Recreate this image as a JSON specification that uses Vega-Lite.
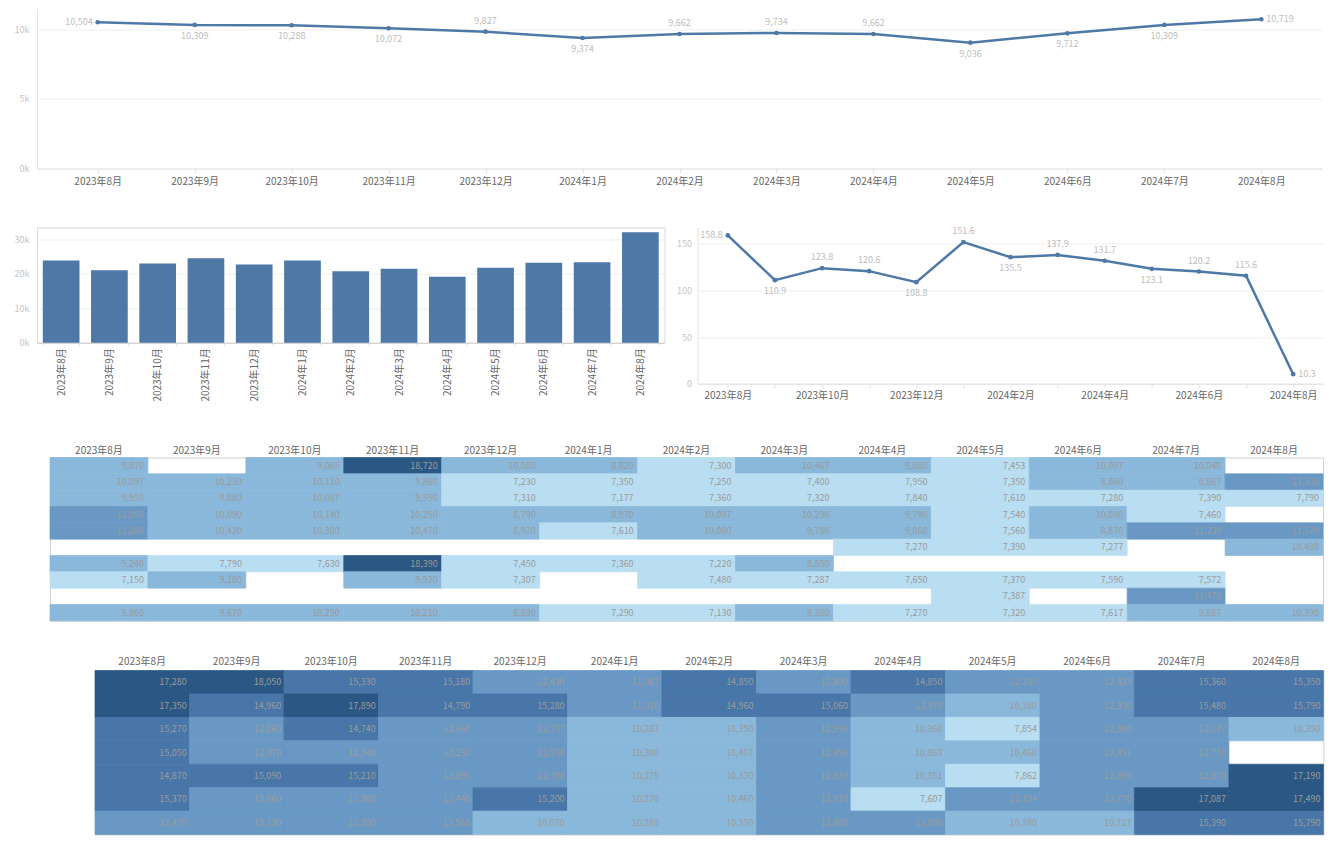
{
  "$schema": "https://vega.github.io/schema/vega-lite/v6.json",
  "padding": {"left": 5, "top": 9.5, "right": 5, "bottom": 5},
  "config": {
    "font": "Noto Sans CJK SC",
    "view": {"stroke": null},
    "axis": {"labelFont": "Noto Sans CJK SC", "labelColor": "#666666", "labelFontSize": 10, "domainColor": "#e2e2e2", "tickColor": "#e2e2e2", "gridColor": "#efefef"}
  },
  "datasets": {
    "trend": [
      {"month": "2023年8月", "value": 10504},
      {"month": "2023年9月", "value": 10309},
      {"month": "2023年10月", "value": 10288},
      {"month": "2023年11月", "value": 10072},
      {"month": "2023年12月", "value": 9827},
      {"month": "2024年1月", "value": 9374},
      {"month": "2024年2月", "value": 9662},
      {"month": "2024年3月", "value": 9734},
      {"month": "2024年4月", "value": 9662},
      {"month": "2024年5月", "value": 9036},
      {"month": "2024年6月", "value": 9712},
      {"month": "2024年7月", "value": 10309},
      {"month": "2024年8月", "value": 10719}
    ],
    "bars": [
      {"month": "2023年8月", "value": 23860},
      {"month": "2023年9月", "value": 21040},
      {"month": "2023年10月", "value": 22990},
      {"month": "2023年11月", "value": 24520},
      {"month": "2023年12月", "value": 22700},
      {"month": "2024年1月", "value": 23860},
      {"month": "2024年2月", "value": 20750},
      {"month": "2024年3月", "value": 21450},
      {"month": "2024年4月", "value": 19130},
      {"month": "2024年5月", "value": 21740},
      {"month": "2024年6月", "value": 23190},
      {"month": "2024年7月", "value": 23360},
      {"month": "2024年8月", "value": 32060}
    ],
    "ratio": [
      {"month": "2023年8月", "value": 158.8},
      {"month": "2023年9月", "value": 110.9},
      {"month": "2023年10月", "value": 123.8},
      {"month": "2023年11月", "value": 120.6},
      {"month": "2023年12月", "value": 108.8},
      {"month": "2024年1月", "value": 151.6},
      {"month": "2024年2月", "value": 135.5},
      {"month": "2024年3月", "value": 137.9},
      {"month": "2024年4月", "value": 131.7},
      {"month": "2024年5月", "value": 123.1},
      {"month": "2024年6月", "value": 120.2},
      {"month": "2024年7月", "value": 115.6},
      {"month": "2024年8月", "value": 10.3}
    ],
    "heat1": [
      {"row": "R1", "month": "2023年8月", "value": 9870},
      {"row": "R1", "month": "2023年10月", "value": 9065},
      {"row": "R1", "month": "2023年11月", "value": 18720},
      {"row": "R1", "month": "2023年12月", "value": 10080},
      {"row": "R1", "month": "2024年1月", "value": 8820},
      {"row": "R1", "month": "2024年2月", "value": 7300},
      {"row": "R1", "month": "2024年3月", "value": 10467},
      {"row": "R1", "month": "2024年4月", "value": 9880},
      {"row": "R1", "month": "2024年5月", "value": 7453},
      {"row": "R1", "month": "2024年6月", "value": 10097},
      {"row": "R1", "month": "2024年7月", "value": 10040},
      {"row": "R2", "month": "2023年8月", "value": 10097},
      {"row": "R2", "month": "2023年9月", "value": 10230},
      {"row": "R2", "month": "2023年10月", "value": 10110},
      {"row": "R2", "month": "2023年11月", "value": 9860},
      {"row": "R2", "month": "2023年12月", "value": 7230},
      {"row": "R2", "month": "2024年1月", "value": 7350},
      {"row": "R2", "month": "2024年2月", "value": 7250},
      {"row": "R2", "month": "2024年3月", "value": 7400},
      {"row": "R2", "month": "2024年4月", "value": 7950},
      {"row": "R2", "month": "2024年5月", "value": 7350},
      {"row": "R2", "month": "2024年6月", "value": 8860},
      {"row": "R2", "month": "2024年7月", "value": 8867},
      {"row": "R2", "month": "2024年8月", "value": 11330},
      {"row": "R3", "month": "2023年8月", "value": 9950},
      {"row": "R3", "month": "2023年9月", "value": 9880},
      {"row": "R3", "month": "2023年10月", "value": 10087},
      {"row": "R3", "month": "2023年11月", "value": 9590},
      {"row": "R3", "month": "2023年12月", "value": 7310},
      {"row": "R3", "month": "2024年1月", "value": 7177},
      {"row": "R3", "month": "2024年2月", "value": 7360},
      {"row": "R3", "month": "2024年3月", "value": 7320},
      {"row": "R3", "month": "2024年4月", "value": 7840},
      {"row": "R3", "month": "2024年5月", "value": 7610},
      {"row": "R3", "month": "2024年6月", "value": 7280},
      {"row": "R3", "month": "2024年7月", "value": 7390},
      {"row": "R3", "month": "2024年8月", "value": 7790},
      {"row": "R4", "month": "2023年8月", "value": 12050},
      {"row": "R4", "month": "2023年9月", "value": 10090},
      {"row": "R4", "month": "2023年10月", "value": 10140},
      {"row": "R4", "month": "2023年11月", "value": 10250},
      {"row": "R4", "month": "2023年12月", "value": 8790},
      {"row": "R4", "month": "2024年1月", "value": 8970},
      {"row": "R4", "month": "2024年2月", "value": 10097},
      {"row": "R4", "month": "2024年3月", "value": 10230},
      {"row": "R4", "month": "2024年4月", "value": 9790},
      {"row": "R4", "month": "2024年5月", "value": 7540},
      {"row": "R4", "month": "2024年6月", "value": 10090},
      {"row": "R4", "month": "2024年7月", "value": 7460},
      {"row": "R5", "month": "2023年8月", "value": 11880},
      {"row": "R5", "month": "2023年9月", "value": 10420},
      {"row": "R5", "month": "2023年10月", "value": 10380},
      {"row": "R5", "month": "2023年11月", "value": 10470},
      {"row": "R5", "month": "2023年12月", "value": 8970},
      {"row": "R5", "month": "2024年1月", "value": 7610},
      {"row": "R5", "month": "2024年2月", "value": 10080},
      {"row": "R5", "month": "2024年3月", "value": 9780},
      {"row": "R5", "month": "2024年4月", "value": 9860},
      {"row": "R5", "month": "2024年5月", "value": 7560},
      {"row": "R5", "month": "2024年6月", "value": 8870},
      {"row": "R5", "month": "2024年7月", "value": 11230},
      {"row": "R5", "month": "2024年8月", "value": 11570},
      {"row": "R6", "month": "2024年4月", "value": 7270},
      {"row": "R6", "month": "2024年5月", "value": 7390},
      {"row": "R6", "month": "2024年6月", "value": 7277},
      {"row": "R6", "month": "2024年8月", "value": 10480},
      {"row": "R7", "month": "2023年8月", "value": 9240},
      {"row": "R7", "month": "2023年9月", "value": 7790},
      {"row": "R7", "month": "2023年10月", "value": 7630},
      {"row": "R7", "month": "2023年11月", "value": 18390},
      {"row": "R7", "month": "2023年12月", "value": 7450},
      {"row": "R7", "month": "2024年1月", "value": 7360},
      {"row": "R7", "month": "2024年2月", "value": 7220},
      {"row": "R7", "month": "2024年3月", "value": 8850},
      {"row": "R8", "month": "2023年8月", "value": 7150},
      {"row": "R8", "month": "2023年9月", "value": 9180},
      {"row": "R8", "month": "2023年11月", "value": 9920},
      {"row": "R8", "month": "2023年12月", "value": 7307},
      {"row": "R8", "month": "2024年2月", "value": 7480},
      {"row": "R8", "month": "2024年3月", "value": 7287},
      {"row": "R8", "month": "2024年4月", "value": 7650},
      {"row": "R8", "month": "2024年5月", "value": 7370},
      {"row": "R8", "month": "2024年6月", "value": 7590},
      {"row": "R8", "month": "2024年7月", "value": 7572},
      {"row": "R9", "month": "2024年5月", "value": 7387},
      {"row": "R9", "month": "2024年7月", "value": 11470},
      {"row": "R10", "month": "2023年8月", "value": 9860},
      {"row": "R10", "month": "2023年9月", "value": 9670},
      {"row": "R10", "month": "2023年10月", "value": 10290},
      {"row": "R10", "month": "2023年11月", "value": 10210},
      {"row": "R10", "month": "2023年12月", "value": 8890},
      {"row": "R10", "month": "2024年1月", "value": 7290},
      {"row": "R10", "month": "2024年2月", "value": 7130},
      {"row": "R10", "month": "2024年3月", "value": 9380},
      {"row": "R10", "month": "2024年4月", "value": 7270},
      {"row": "R10", "month": "2024年5月", "value": 7320},
      {"row": "R10", "month": "2024年6月", "value": 7617},
      {"row": "R10", "month": "2024年7月", "value": 9887},
      {"row": "R10", "month": "2024年8月", "value": 10390}
    ],
    "heat2": [
      {"row": "R1", "month": "2023年8月", "value": 17280},
      {"row": "R1", "month": "2023年9月", "value": 18050},
      {"row": "R1", "month": "2023年10月", "value": 15330},
      {"row": "R1", "month": "2023年11月", "value": 15180},
      {"row": "R1", "month": "2023年12月", "value": 12430},
      {"row": "R1", "month": "2024年1月", "value": 11887},
      {"row": "R1", "month": "2024年2月", "value": 14850},
      {"row": "R1", "month": "2024年3月", "value": 12890},
      {"row": "R1", "month": "2024年4月", "value": 14850},
      {"row": "R1", "month": "2024年5月", "value": 12230},
      {"row": "R1", "month": "2024年6月", "value": 12423},
      {"row": "R1", "month": "2024年7月", "value": 15360},
      {"row": "R1", "month": "2024年8月", "value": 15350},
      {"row": "R2", "month": "2023年8月", "value": 17350},
      {"row": "R2", "month": "2023年9月", "value": 14960},
      {"row": "R2", "month": "2023年10月", "value": 17890},
      {"row": "R2", "month": "2023年11月", "value": 14790},
      {"row": "R2", "month": "2023年12月", "value": 15280},
      {"row": "R2", "month": "2024年1月", "value": 11820},
      {"row": "R2", "month": "2024年2月", "value": 14960},
      {"row": "R2", "month": "2024年3月", "value": 15060},
      {"row": "R2", "month": "2024年4月", "value": 12970},
      {"row": "R2", "month": "2024年5月", "value": 10380},
      {"row": "R2", "month": "2024年6月", "value": 12330},
      {"row": "R2", "month": "2024年7月", "value": 15480},
      {"row": "R2", "month": "2024年8月", "value": 15790},
      {"row": "R3", "month": "2023年8月", "value": 15270},
      {"row": "R3", "month": "2023年9月", "value": 12860},
      {"row": "R3", "month": "2023年10月", "value": 14740},
      {"row": "R3", "month": "2023年11月", "value": 12660},
      {"row": "R3", "month": "2023年12月", "value": 12707},
      {"row": "R3", "month": "2024年1月", "value": 10287},
      {"row": "R3", "month": "2024年2月", "value": 10350},
      {"row": "R3", "month": "2024年3月", "value": 12990},
      {"row": "R3", "month": "2024年4月", "value": 10960},
      {"row": "R3", "month": "2024年5月", "value": 7854},
      {"row": "R3", "month": "2024年6月", "value": 12380},
      {"row": "R3", "month": "2024年7月", "value": 12147},
      {"row": "R3", "month": "2024年8月", "value": 10350},
      {"row": "R4", "month": "2023年8月", "value": 15050},
      {"row": "R4", "month": "2023年9月", "value": 12370},
      {"row": "R4", "month": "2023年10月", "value": 12540},
      {"row": "R4", "month": "2023年11月", "value": 12230},
      {"row": "R4", "month": "2023年12月", "value": 12930},
      {"row": "R4", "month": "2024年1月", "value": 10380},
      {"row": "R4", "month": "2024年2月", "value": 10407},
      {"row": "R4", "month": "2024年3月", "value": 12890},
      {"row": "R4", "month": "2024年4月", "value": 10863},
      {"row": "R4", "month": "2024年5月", "value": 10460},
      {"row": "R4", "month": "2024年6月", "value": 12451},
      {"row": "R4", "month": "2024年7月", "value": 12750},
      {"row": "R5", "month": "2023年8月", "value": 14870},
      {"row": "R5", "month": "2023年9月", "value": 15090},
      {"row": "R5", "month": "2023年10月", "value": 15210},
      {"row": "R5", "month": "2023年11月", "value": 12890},
      {"row": "R5", "month": "2023年12月", "value": 12780},
      {"row": "R5", "month": "2024年1月", "value": 10275},
      {"row": "R5", "month": "2024年2月", "value": 10330},
      {"row": "R5", "month": "2024年3月", "value": 12880},
      {"row": "R5", "month": "2024年4月", "value": 10351},
      {"row": "R5", "month": "2024年5月", "value": 7862},
      {"row": "R5", "month": "2024年6月", "value": 12390},
      {"row": "R5", "month": "2024年7月", "value": 12870},
      {"row": "R5", "month": "2024年8月", "value": 17190},
      {"row": "R6", "month": "2023年8月", "value": 15370},
      {"row": "R6", "month": "2023年9月", "value": 12860},
      {"row": "R6", "month": "2023年10月", "value": 11980},
      {"row": "R6", "month": "2023年11月", "value": 12440},
      {"row": "R6", "month": "2023年12月", "value": 15200},
      {"row": "R6", "month": "2024年1月", "value": 10270},
      {"row": "R6", "month": "2024年2月", "value": 10460},
      {"row": "R6", "month": "2024年3月", "value": 12970},
      {"row": "R6", "month": "2024年4月", "value": 7607},
      {"row": "R6", "month": "2024年5月", "value": 12154},
      {"row": "R6", "month": "2024年6月", "value": 12770},
      {"row": "R6", "month": "2024年7月", "value": 17087},
      {"row": "R6", "month": "2024年8月", "value": 17490},
      {"row": "R7", "month": "2023年8月", "value": 12470},
      {"row": "R7", "month": "2023年9月", "value": 12130},
      {"row": "R7", "month": "2023年10月", "value": 12290},
      {"row": "R7", "month": "2023年11月", "value": 12560},
      {"row": "R7", "month": "2023年12月", "value": 10070},
      {"row": "R7", "month": "2024年1月", "value": 10280},
      {"row": "R7", "month": "2024年2月", "value": 10350},
      {"row": "R7", "month": "2024年3月", "value": 12880},
      {"row": "R7", "month": "2024年4月", "value": 12890},
      {"row": "R7", "month": "2024年5月", "value": 10380},
      {"row": "R7", "month": "2024年6月", "value": 10727},
      {"row": "R7", "month": "2024年7月", "value": 15390},
      {"row": "R7", "month": "2024年8月", "value": 15790}
    ]
  },
  "spacing": 33,
  "vconcat": [
    {
      "width": 1285,
      "height": 159,
      "data": {"name": "trend"},
      "encoding": {
        "x": {"field": "month", "type": "ordinal", "sort": ["2023年8月","2023年9月","2023年10月","2023年11月","2023年12月","2024年1月","2024年2月","2024年3月","2024年4月","2024年5月","2024年6月","2024年7月","2024年8月"], "scale": {"type": "point", "padding": 0.626}, "axis": {"title": null, "labelAngle": 0, "tickSize": 4, "labelPadding": 4, "minExtent": 25, "grid": false}},
        "y": {"field": "value", "type": "quantitative", "scale": {"domain": [0, 11420], "nice": false}, "axis": {"title": null, "values": [0, 5000, 10000], "format": "~s", "labelColor": "#c4c4c4", "labelFontSize": 9, "tickSize": 0, "labelPadding": 8, "minExtent": 32, "grid": true}}
      },
      "layer": [
        {"mark": {"type": "line", "color": "#4e79a7", "strokeWidth": 2.5}},
        {"mark": {"type": "point", "filled": true, "color": "#4e79a7", "size": 22, "opacity": 1}},
        {"transform": [{"filter": {"field": "month", "oneOf": ["2023年12月","2024年2月","2024年3月","2024年4月"]}}], "mark": {"type": "text", "dy": -11, "fontSize": 9, "color": "#bdbdbd"}, "encoding": {"text": {"field": "value", "format": ",d"}}},
        {"transform": [{"filter": {"field": "month", "oneOf": ["2023年9月","2023年10月","2023年11月","2024年1月","2024年5月","2024年6月","2024年7月"]}}], "mark": {"type": "text", "dy": 11, "fontSize": 9, "color": "#bdbdbd"}, "encoding": {"text": {"field": "value", "format": ",d"}}},
        {"transform": [{"filter": {"field": "month", "equal": "2023年8月"}}], "mark": {"type": "text", "align": "right", "dx": -5, "fontSize": 9, "color": "#bdbdbd"}, "encoding": {"text": {"field": "value", "format": ",d"}}},
        {"transform": [{"filter": {"field": "month", "equal": "2024年8月"}}], "mark": {"type": "text", "align": "left", "dx": 5, "fontSize": 9, "color": "#bdbdbd"}, "encoding": {"text": {"field": "value", "format": ",d"}}}
      ]
    },
    {
      "spacing": 7.5,
      "hconcat": [
        {
          "width": 627.5,
          "height": 115.3,
          "data": {"name": "bars"},
          "view": {"stroke": "#d9d9d9"},
          "mark": {"type": "bar", "color": "#4e79a7"},
          "encoding": {
            "x": {"field": "month", "type": "ordinal", "sort": ["2023年8月","2023年9月","2023年10月","2023年11月","2023年12月","2024年1月","2024年2月","2024年3月","2024年4月","2024年5月","2024年6月","2024年7月","2024年8月"], "scale": {"paddingInner": 0.24, "paddingOuter": 0.12}, "axis": {"title": null, "labelAngle": -90, "tickBand": "extent", "tickSize": 3, "labelPadding": 2, "domainColor": "#cfcfcf"}},
            "y": {"field": "value", "type": "quantitative", "scale": {"domain": [0, 33420], "nice": false}, "axis": {"title": null, "values": [0, 10000, 20000, 30000], "format": "~s", "labelColor": "#c4c4c4", "labelFontSize": 9, "tickSize": 0, "labelPadding": 8, "domain": false, "grid": true}}
          }
        },
        {
          "width": 626,
          "height": 156.3,
          "data": {"name": "ratio"},
          "encoding": {
            "x": {"field": "month", "type": "ordinal", "sort": ["2023年8月","2023年9月","2023年10月","2023年11月","2023年12月","2024年1月","2024年2月","2024年3月","2024年4月","2024年5月","2024年6月","2024年7月","2024年8月"], "scale": {"type": "point", "padding": 0.644}, "axis": {"title": null, "labelAngle": 0, "tickSize": 4, "labelPadding": 3, "minExtent": 27, "grid": false, "labelExpr": "(datum.value == '2023年8月' || datum.value == '2023年10月' || datum.value == '2023年12月' || datum.value == '2024年2月' || datum.value == '2024年4月' || datum.value == '2024年6月' || datum.value == '2024年8月') ? datum.label : ''"}},
            "y": {"field": "value", "type": "quantitative", "scale": {"domain": [0, 167.3], "nice": false}, "axis": {"title": null, "values": [0, 50, 100, 150], "labelColor": "#c4c4c4", "labelFontSize": 9, "tickSize": 0, "labelPadding": 6, "minExtent": 25, "grid": true}}
          },
          "layer": [
            {"mark": {"type": "line", "color": "#4e79a7", "strokeWidth": 2.5}},
            {"mark": {"type": "point", "filled": true, "color": "#4e79a7", "size": 22, "opacity": 1}},
            {"transform": [{"filter": {"field": "month", "oneOf": ["2023年10月","2023年11月","2024年1月","2024年3月","2024年4月","2024年6月","2024年7月"]}}], "mark": {"type": "text", "dy": -11, "fontSize": 9, "color": "#bdbdbd"}, "encoding": {"text": {"field": "value", "format": ".1f"}}},
            {"transform": [{"filter": {"field": "month", "oneOf": ["2023年9月","2023年12月","2024年2月","2024年5月"]}}], "mark": {"type": "text", "dy": 11, "fontSize": 9, "color": "#bdbdbd"}, "encoding": {"text": {"field": "value", "format": ".1f"}}},
            {"transform": [{"filter": {"field": "month", "equal": "2023年8月"}}], "mark": {"type": "text", "align": "right", "dx": -5, "fontSize": 9, "color": "#bdbdbd"}, "encoding": {"text": {"field": "value", "format": ".1f"}}},
            {"transform": [{"filter": {"field": "month", "equal": "2024年8月"}}], "mark": {"type": "text", "align": "left", "dx": 5, "fontSize": 9, "color": "#bdbdbd"}, "encoding": {"text": {"field": "value", "format": ".1f"}}}
          ]
        }
      ]
    },
    {
      "spacing": 0,
      "hconcat": [
        {"data": {"values": []}, "mark": "text", "width": 11.7, "height": 160},
        {
          "width": 1273,
          "height": 163.3,
          "data": {"name": "heat1"},
          "view": {"stroke": "#cfcfcf"},
          "encoding": {
            "x": {"field": "month", "type": "ordinal", "sort": ["2023年8月","2023年9月","2023年10月","2023年11月","2023年12月","2024年1月","2024年2月","2024年3月","2024年4月","2024年5月","2024年6月","2024年7月","2024年8月"], "scale": {"paddingInner": 0, "paddingOuter": 0}, "axis": {"orient": "top", "title": null, "labelAngle": 0, "ticks": false, "domain": false, "labelPadding": 2}},
            "y": {"field": "row", "type": "ordinal", "sort": ["R1","R2","R3","R4","R5","R6","R7","R8","R9","R10"], "axis": null}
          },
          "layer": [
            {"mark": {"type": "rect", "strokeWidth": 0.7}, "encoding": {
              "color": {"field": "value", "type": "quantitative", "scale": {"type": "threshold", "domain": [8000, 11000, 14000, 17000], "range": ["#b9ddf1", "#8ab8da", "#6998c4", "#4876a8", "#2a5783"]}, "legend": null},
              "stroke": {"field": "value", "type": "quantitative", "scale": {"type": "threshold", "domain": [8000, 11000, 14000, 17000], "range": ["#b9ddf1", "#8ab8da", "#6998c4", "#4876a8", "#2a5783"]}, "legend": null}}},
            {"mark": {"type": "text", "align": "right", "fontSize": 9, "color": "#9b9b9b"}, "encoding": {"x": {"field": "month", "type": "ordinal", "sort": ["2023年8月","2023年9月","2023年10月","2023年11月","2023年12月","2024年1月","2024年2月","2024年3月","2024年4月","2024年5月","2024年6月","2024年7月","2024年8月"], "bandPosition": 0.96}, "text": {"field": "value", "format": ",d"}}}
          ]
        }
      ]
    },
    {
      "spacing": 0,
      "hconcat": [
        {"data": {"values": []}, "mark": "text", "width": 56.3, "height": 160},
        {
          "width": 1228.4,
          "height": 164,
          "data": {"name": "heat2"},
          "view": {"stroke": "#cfcfcf"},
          "encoding": {
            "x": {"field": "month", "type": "ordinal", "sort": ["2023年8月","2023年9月","2023年10月","2023年11月","2023年12月","2024年1月","2024年2月","2024年3月","2024年4月","2024年5月","2024年6月","2024年7月","2024年8月"], "scale": {"paddingInner": 0, "paddingOuter": 0}, "axis": {"orient": "top", "title": null, "labelAngle": 0, "ticks": false, "domain": false, "labelPadding": 4}},
            "y": {"field": "row", "type": "ordinal", "sort": ["R1","R2","R3","R4","R5","R6","R7"], "axis": null}
          },
          "layer": [
            {"mark": {"type": "rect", "strokeWidth": 0.7}, "encoding": {
              "color": {"field": "value", "type": "quantitative", "scale": {"type": "threshold", "domain": [8000, 11000, 14000, 17000], "range": ["#b9ddf1", "#8ab8da", "#6998c4", "#4876a8", "#2a5783"]}, "legend": null},
              "stroke": {"field": "value", "type": "quantitative", "scale": {"type": "threshold", "domain": [8000, 11000, 14000, 17000], "range": ["#b9ddf1", "#8ab8da", "#6998c4", "#4876a8", "#2a5783"]}, "legend": null}}},
            {"mark": {"type": "text", "align": "right", "fontSize": 9, "color": "#9b9b9b"}, "encoding": {"x": {"field": "month", "type": "ordinal", "sort": ["2023年8月","2023年9月","2023年10月","2023年11月","2023年12月","2024年1月","2024年2月","2024年3月","2024年4月","2024年5月","2024年6月","2024年7月","2024年8月"], "bandPosition": 0.97}, "text": {"field": "value", "format": ",d"}}}
          ]
        }
      ]
    }
  ]
}
